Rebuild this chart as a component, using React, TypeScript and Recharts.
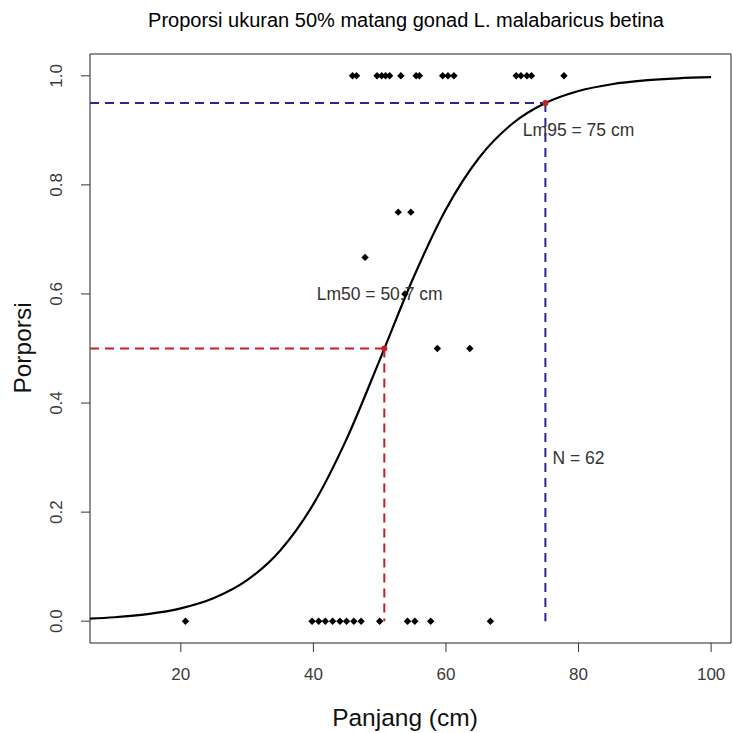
import React from "react";
import {
  ComposedChart,
  Line,
  Scatter,
  XAxis,
  YAxis,
  ReferenceLine,
  ReferenceArea,
} from "recharts";

// Observed proportions (length in cm, proportion mature)
const matureLengths = [45.9, 46.5, 49.6, 50.3, 50.9, 51.5, 53.2, 55.5, 56.0, 59.5, 60.3, 61.2, 70.6, 71.3, 72.2, 72.9, 77.8];
const immatureLengths = [20.7, 39.8, 40.8, 41.8, 42.9, 44.0, 45.0, 46.1, 47.2, 50.0, 54.2, 55.3, 57.7, 66.7];
const partialLengths = [52.8, 54.7, 47.8, 53.8, 58.7, 63.6];
const partialProps = [0.75, 0.75, 0.667, 0.6, 0.5, 0.5];

// Fitted logistic curve
const curveX = [5, 10, 15, 20, 25, 30, 35, 40, 45, 50, 55, 60, 65, 70, 75, 80, 85, 90, 95, 100];
const curveY = [0.0039, 0.0072, 0.013, 0.0236, 0.0425, 0.0752, 0.1297, 0.2147, 0.3338, 0.4788, 0.6274, 0.7553, 0.8498, 0.9121, 0.95, 0.9721, 0.9846, 0.9915, 0.9954, 0.9975];

const lm50 = 50.7;
const lm95 = 75;
const annotations = [
  { x: 50, y: 0.6, text: "Lm50 = 50.7 cm" },
  { x: 80, y: 0.9, text: "Lm95 = 75 cm" },
  { x: 80, y: 0.3, text: "N = 62" },
];

const xTicks = [20, 40, 60, 80, 100];
const yTicks = [0, 0.2, 0.4, 0.6, 0.8, 1.0];
const xDomain = [6.3, 103];
const yDomain = [-0.04, 1.04];

const FONT = "'Liberation Sans', Arial, sans-serif";
const RED = "#c81e1e";
const BLUE = "#27279a";

const points = [
  ...matureLengths.map((x) => ({ x, y: 1 })),
  ...immatureLengths.map((x) => ({ x, y: 0 })),
  ...partialLengths.map((x, i) => ({ x, y: partialProps[i] })),
];
const curve = curveX.map((x, i) => ({ x, y: curveY[i] }));

const Diamond = (props: any) => {
  const { cx, cy } = props;
  const s = 3.7;
  return (
    <polygon
      points={`${cx},${cy - s} ${cx + s},${cy} ${cx},${cy + s} ${cx - s},${cy}`}
      fill="#000"
    />
  );
};

const TextShape = (props: any) => {
  const { cx, cy, payload } = props;
  return (
    <text
      x={cx}
      y={cy}
      textAnchor="middle"
      dominantBaseline="central"
      fontFamily={FONT}
      fontSize={17.5}
      fill="#333"
    >
      {payload.text}
    </text>
  );
};

const YTick = (props: any) => {
  const { x, y, payload } = props;
  const tx = x - 22;
  return (
    <text
      x={tx}
      y={y}
      transform={`rotate(-90, ${tx}, ${y})`}
      textAnchor="middle"
      dominantBaseline="central"
      fontFamily={FONT}
      fontSize={17}
      fill="#3a3a3a"
    >
      {Number(payload.value).toFixed(1)}
    </text>
  );
};

const XTick = (props: any) => {
  const { x, y, payload } = props;
  return (
    <text
      x={x}
      y={y + 20}
      textAnchor="middle"
      dominantBaseline="central"
      fontFamily={FONT}
      fontSize={17}
      fill="#3a3a3a"
    >
      {payload.value}
    </text>
  );
};

export default function App() {
  return (
    <div style={{ position: "absolute", left: 0, top: 0, width: 733, height: 733, background: "#fff" }}>
      <ComposedChart
        width={733}
        height={733}
        margin={{ top: 54, right: 2, bottom: 0, left: 0 }}
      >
        <XAxis
          type="number"
          dataKey="x"
          domain={xDomain}
          ticks={xTicks}
          allowDataOverflow
          axisLine={false}
          tickLine={{ stroke: "#333" }}
          tickSize={9}
          tickMargin={2}
          tick={<XTick />}
          height={90}
        />
        <YAxis
          type="number"
          dataKey="y"
          domain={yDomain}
          ticks={yTicks}
          allowDataOverflow
          axisLine={false}
          tickLine={{ stroke: "#333" }}
          tickSize={9}
          tickMargin={2}
          tick={<YTick />}
          width={90}
        />
        <ReferenceArea
          x1={xDomain[0]}
          x2={xDomain[1]}
          y1={yDomain[0]}
          y2={yDomain[1]}
          fill="none"
          stroke="#222"
          strokeWidth={1}
          fillOpacity={0}
        />
        <Scatter data={points} dataKey="y" shape={<Diamond />} isAnimationActive={false} />
        <Line
          data={curve}
          dataKey="y"
          type="monotone"
          stroke="#000"
          strokeWidth={2.2}
          dot={false}
          isAnimationActive={false}
        />
        <ReferenceLine
          segment={[{ x: xDomain[0], y: 0.5 }, { x: lm50, y: 0.5 }]}
          stroke={RED}
          strokeWidth={2}
          strokeDasharray="9 6"
        />
        <ReferenceLine
          segment={[{ x: lm50, y: 0.5 }, { x: lm50, y: 0 }]}
          stroke={RED}
          strokeWidth={2}
          strokeDasharray="9 6"
        />
        <ReferenceLine
          segment={[{ x: xDomain[0], y: 0.95 }, { x: lm95, y: 0.95 }]}
          stroke={BLUE}
          strokeWidth={2}
          strokeDasharray="9 6"
        />
        <ReferenceLine
          segment={[{ x: lm95, y: 0.95 }, { x: lm95, y: 0 }]}
          stroke={BLUE}
          strokeWidth={2}
          strokeDasharray="9 6"
        />
        <Scatter
          data={[{ x: lm50, y: 0.5 }, { x: lm95, y: 0.95 }]}
          dataKey="y"
          fill={RED}
          shape={(p: any) => <circle cx={p.cx} cy={p.cy} r={3} fill={RED} />}
          isAnimationActive={false}
        />
        <Scatter data={annotations} dataKey="y" shape={<TextShape />} isAnimationActive={false} />
        <text x={406} y={20} textAnchor="middle" dominantBaseline="central" fontFamily={FONT} fontSize={20} fill="#000">
          Proporsi ukuran 50% matang gonad L. malabaricus betina
        </text>
        <text x={405} y={717} textAnchor="middle" dominantBaseline="central" fontFamily={FONT} fontSize={24.5} fill="#111">
          Panjang (cm)
        </text>
        <text
          x={22}
          y={348}
          transform="rotate(-90, 22, 348)"
          textAnchor="middle"
          dominantBaseline="central"
          fontFamily={FONT}
          fontSize={24.5}
          fill="#111"
        >
          Porporsi
        </text>
      </ComposedChart>
    </div>
  );
}
